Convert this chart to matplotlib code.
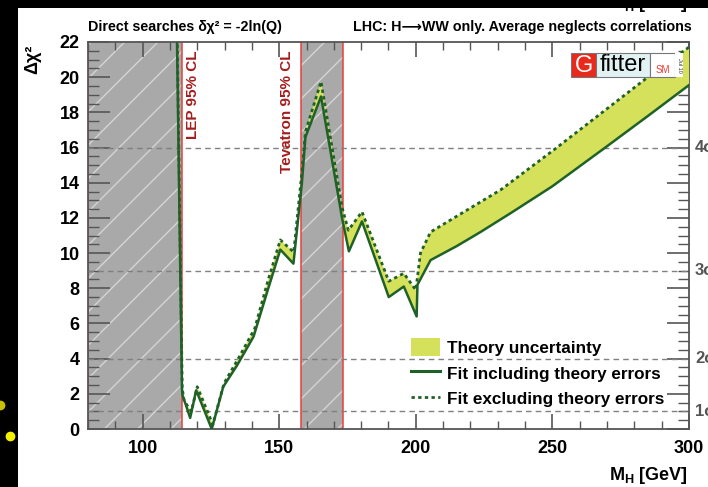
import numpy as np
import matplotlib
matplotlib.use("Agg")
import matplotlib.pyplot as plt
from matplotlib.patches import Rectangle, Patch
from matplotlib.lines import Line2D
from matplotlib.ticker import MultipleLocator

plt.rcParams['font.family'] = ['Liberation Sans', 'DejaVu Sans']
plt.rcParams['font.weight'] = 'bold'
plt.rcParams['mathtext.fontset'] = 'custom'
plt.rcParams['mathtext.rm'] = 'Liberation Sans:bold'
plt.rcParams['mathtext.bf'] = 'Liberation Sans:bold'
plt.rcParams['mathtext.it'] = 'Liberation Sans:bold'

# fit including theory errors (solid)
mh_incl = [112.5, 113.5, 114.4, 114.6, 117.4, 119.6, 125.3, 129.5, 134.5, 140.6,
           146.0, 150.4, 155.2, 158.3, 159.6, 165.3, 173.0, 175.5, 180.3, 190.1,
           195.6, 200.3, 200.6, 205.4, 215.0, 223.7, 235.0, 250.0, 269.0, 285.0, 300.0]
chi2_incl = [23.0, 12.0, 2.3, 1.93, 0.63, 2.2, 0.0, 2.4, 3.6, 5.25,
             8.0, 10.2, 9.4, 14.0, 16.6, 18.9, 12.0, 10.1, 11.8, 7.5,
             8.1, 6.4, 8.2, 9.6, 10.4, 11.2, 12.3, 13.8, 15.96, 17.8, 19.55]

# fit excluding theory errors (dashed)
mh_excl = [112.6, 113.6, 114.5, 115.2, 117.8, 120.0, 125.7, 129.8, 135.0, 141.0,
           146.0, 150.4, 155.3, 158.3, 159.6, 165.3, 173.0, 175.3, 180.3, 190.1,
           195.6, 200.0, 201.7, 205.4, 231.1, 251.3, 284.9, 300.8]
chi2_excl = [23.0, 12.0, 2.3, 1.6, 1.0, 2.4, 0.25, 2.6, 4.0, 5.7,
             8.5, 10.75, 10.05, 14.6, 16.9, 19.75, 12.6, 11.3, 12.35, 8.4,
             8.85, 7.9, 10.0, 11.2, 13.6, 15.96, 20.0, 21.8]

lep_excl = (80.0, 114.4)
tev_excl = (158.0, 173.5)
sigma_levels = [1, 4, 9, 16]
sigma_labels = ['1σ', '2σ', '3σ', '4σ']

W, H = 708, 487
fig = plt.figure(figsize=(W / 100, H / 100), dpi=100)
ax = fig.add_axes([88 / W, (H - 429) / H, (689 - 88) / W, (429 - 42) / H])

band_col = '#d5e05b'
green = '#1f6128'
red = '#e8403c'

# excluded regions
for lo, hi in (lep_excl, tev_excl):
    ax.axvspan(lo, hi, facecolor='#a9a9a9', edgecolor='#d4d4d4', hatch='/', linewidth=0, zorder=1)
    ax.axvline(lo, color=red, lw=1.1, zorder=2)
    ax.axvline(hi, color=red, lw=1.1, zorder=2)

for lv in sigma_levels:
    ax.axhline(lv, color='#808080', lw=1.0, ls=(0, (4, 3)), zorder=3)

# theory band between the two curves
band_x = np.concatenate([mh_incl, mh_excl[::-1]])
band_y = np.concatenate([chi2_incl, chi2_excl[::-1]])
ax.fill(band_x, band_y, color=band_col, lw=0, zorder=4)
ax.plot(mh_excl, chi2_excl, color=green, lw=2.0, ls=(0, (1.2, 1.2)), zorder=5)
ax.plot(mh_incl, chi2_incl, color=green, lw=1.8, zorder=6)

ax.set_xlim(80, 300)
ax.set_ylim(0, 22)
ax.xaxis.set_major_locator(MultipleLocator(50))
ax.xaxis.set_minor_locator(MultipleLocator(10))
ax.yaxis.set_major_locator(MultipleLocator(2))
ax.yaxis.set_minor_locator(MultipleLocator(0.5))
ax.tick_params(which='both', direction='in', top=True, right=True, color='#555555',
               labelsize=13, pad=6)
ax.tick_params(axis='x', which='major', length=11, width=1.2)
ax.tick_params(axis='x', which='minor', length=6, width=1.0)
ax.tick_params(axis='y', which='major', length=16, width=1.2)
ax.tick_params(axis='y', which='minor', length=8, width=1.0)
ax.tick_params(axis='x', pad=8)
for lab in ax.get_xticklabels() + ax.get_yticklabels():
    lab.set_fontweight('bold')
for sp in ax.spines.values():
    sp.set_color('#555555')
    sp.set_linewidth(1.3)

ax.text(118.6, 21.5, 'LEP 95% CL', rotation=90, ha='center', va='top',
        color='#a51d1d', fontsize=11, fontweight='bold', zorder=7)
ax.text(153.0, 21.5, 'Tevatron 95% CL', rotation=90, ha='center', va='top',
        color='#a51d1d', fontsize=11, fontweight='bold', zorder=7)

for lv, lb in zip(sigma_levels, sigma_labels):
    ax.text(1.01, lv, lb, transform=ax.get_yaxis_transform(), ha='left', va='center',
            fontsize=12, color='#555555', fontweight='bold', clip_on=False)

handles = [Patch(facecolor=band_col, edgecolor='none'),
           Line2D([], [], color=green, lw=2.2),
           Line2D([], [], color=green, lw=2.0, ls=(0, (1.2, 1.2)))]
labels = ['Theory uncertainty', 'Fit including theory errors', 'Fit excluding theory errors']
leg = ax.legend(handles, labels, loc='upper left', bbox_to_anchor=(0.538, 0.234),
                frameon=False, fontsize=12.3, handlelength=1.7, handleheight=1.2,
                labelspacing=0.47, handletextpad=0.4, borderaxespad=0, borderpad=0)
for t in leg.get_texts():
    t.set_fontweight('bold')

# titles and axis labels
fig.text(88 / W, 1 - 27 / H, 'Direct searches δχ² = -2ln(Q)', ha='left', va='center',
         fontsize=10.3, fontweight='bold')
fig.text(692 / W, 1 - 27 / H, 'LHC: H⟶WW only. Average neglects correlations', ha='right',
         va='center', fontsize=10.3, fontweight='bold')
fig.text(33 / W, 1 - 45 / H, 'Δχ²', rotation=90, ha='center', va='top', fontsize=13,
         fontweight='bold')
fig.text(688 / W, 1 - 476 / H, r'M$_\mathbf{H}$ [GeV]', ha='right', va='center',
         fontsize=13, fontweight='bold')

# Gfitter logo
def px_rect(x0, y0, x1, y1, **kw):
    fig.patches.append(Rectangle((x0 / W, 1 - y1 / H), (x1 - x0) / W, (y1 - y0) / H,
                                 transform=fig.transFigure, figure=fig, **kw))

px_rect(571, 53, 596, 77, facecolor='#e8291c', edgecolor='#777777', lw=0.8, zorder=8)
px_rect(596, 53, 650, 77, facecolor='#e2f1f2', edgecolor='#777777', lw=0.8, zorder=8)
px_rect(650, 53, 675, 77, facecolor='white', edgecolor='#777777', lw=0.8, zorder=8)
px_rect(675, 53, 683, 77, facecolor='white', edgecolor='none', zorder=8)
fig.text(583.5 / W, 1 - 65.5 / H, 'G', ha='center', va='center', color='white',
         fontsize=17, fontweight='normal', zorder=9)
fig.text(623 / W, 1 - 65 / H, 'fitter', ha='center', va='center', color='black',
         fontsize=17, fontweight='normal', zorder=9)
fig.text(662.5 / W, 1 - 70 / H, 'SM', ha='center', va='center', color='#f03a30',
         fontsize=7, fontweight='normal', zorder=9)
fig.text(679 / W, 1 - 65 / H, 'Jul 10', ha='center', va='center', color='#333333',
         fontsize=4, rotation=-90, fontweight='normal', zorder=9)

# screenshot borders
fig.text(688 / W, 1 - 3 / H, r'M$_\mathbf{H}$ [GeV]', ha='right', va='center',
         fontsize=13, fontweight='bold', zorder=1)
px_rect(0, 0, W, 8, facecolor='black', edgecolor='none', zorder=10)
px_rect(0, 0, 18, H, facecolor='black', edgecolor='none', zorder=10)
fig.add_artist(Line2D([10 / W], [1 - 436 / H], marker='o', ms=6, color='#f5f000', lw=0,
                      transform=fig.transFigure, zorder=11))
fig.add_artist(Line2D([0 / W], [1 - 405 / H], marker='o', ms=6, color='#c8c000', lw=0,
                      transform=fig.transFigure, zorder=11))

fig.savefig('out.png', dpi=100)
